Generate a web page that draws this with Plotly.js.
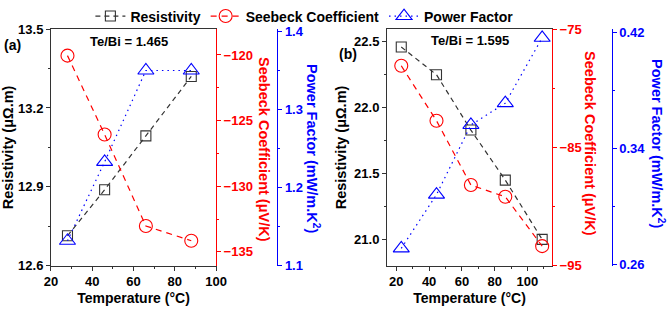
<!DOCTYPE html>
<html>
<head>
<meta charset="utf-8">
<script src="https://cdn.plot.ly/plotly-3.0.1.min.js"></script>
<style>html,body{margin:0;padding:0;background:#fff;}#chart{width:669px;height:309px;}</style>
</head>
<body>
<div id="chart"></div>
<script>
// Panel (a): Te/Bi = 1.465
var tempA = [28, 46, 66, 88];
var resA = [12.714, 12.889, 13.094, 13.32];
var seebA = [-120.05, -126.06, -133.03, -134.15];
var pfA = [1.132, 1.233, 1.35, 1.35];
// Panel (b): Te/Bi = 1.595
var tempB = [23, 44.5, 65.5, 86.5, 109];
var resB = [22.46, 22.25, 21.83, 21.45, 21.0];
var seebB = [-78.1, -82.74, -88.18, -89.17, -93.34];
var pfB = [0.271, 0.308, 0.356, 0.371, 0.416];

var seriesNames = ['Resistivity', 'Seebeck Coefficient', 'Power Factor'];
var panelLabels = ['(a)', '(b)'];
var ratioLabels = ['Te/Bi = 1.465', 'Te/Bi = 1.595'];
var xTitle = 'Temperature (\u00B0C)';
var resTitle = 'Resistivity (\u03BC\u03A9.m)';
var seebTitle = 'Seebeck Coefficient (\u03BCV/K)';
var pfTitle = 'Power Factor (mW/m.K<sup>2</sup>)';

var FONT = 'Arial, "Liberation Sans", sans-serif';
var BLK = '#333333', RED = '#ff0000', BLUE = '#0000ff';
var lw = 1.2;

function tr(x, y, xa, ya, i, show) {
  var styles = [
    {color: BLK, dash: '5px,4px', symbol: 'square-open', size: 10},
    {color: RED, dash: '6px,5px', symbol: 'circle-open', size: 13},
    {color: BLUE, dash: '1.5px,4px', symbol: 'triangle-up-open', size: 14}
  ];
  var s = styles[i];
  return {
    type: 'scatter', mode: 'lines+markers', x: x, y: y, xaxis: xa, yaxis: ya,
    name: seriesNames[i], showlegend: show, legendgroup: 'g' + i,
    line: {color: s.color, width: lw, dash: s.dash},
    marker: {symbol: s.symbol, size: s.size, color: s.color, line: {color: s.color, width: 1.1}},
    cliponaxis: false
  };
}

var data = [
  tr(tempA, resA, 'x', 'y', 0, true),
  tr(tempA, seebA, 'x', 'y2', 1, true),
  tr(tempA, pfA, 'x', 'y3', 2, true),
  tr(tempB, resB, 'x2', 'y4', 0, false),
  tr(tempB, seebB, 'x2', 'y5', 1, false),
  tr(tempB, pfB, 'x2', 'y6', 2, false)
];

var tickF = {family: FONT, size: 13, weight: 'bold'};
function tf(c) { return {family: FONT, size: 13, weight: 'bold', color: c}; }
var yDom = [0.1408, 0.9117];

function xAx(dom, anchor, range) {
  return {
    domain: dom, anchor: anchor, range: range, tick0: 20, dtick: 20,
    ticks: 'outside', ticklen: 4, tickcolor: BLK, tickwidth: 1,
    minor: {dtick: 10, ticks: 'outside', ticklen: 2, tickcolor: BLK},
    showline: true, linecolor: BLK, linewidth: 1, mirror: true,
    showgrid: false, zeroline: false, tickfont: tf('#000'),
    title: {text: xTitle, font: {family: FONT, size: 14, weight: 'bold', color: '#000'}, standoff: 4}
  };
}
function yLeft(anchor, range, t0, dt, mdt, fmt) {
  return {
    domain: yDom, anchor: anchor, range: range, tick0: t0, dtick: dt, tickformat: fmt,
    ticks: 'outside', ticklen: 4, tickcolor: BLK,
    minor: {dtick: mdt, tick0: t0, ticks: 'outside', ticklen: 2, tickcolor: BLK},
    showline: true, linecolor: BLK, linewidth: 1, showgrid: false, zeroline: false,
    tickfont: tf('#000'),
    title: {text: resTitle, font: {family: FONT, size: 14.5, weight: 'bold', color: '#000'}, standoff: 4}
  };
}
function yRight(over, anchor, pos, range, t0, dt, mdt, color, fmt) {
  var a = {
    overlaying: over, side: 'right', range: range, tick0: t0, dtick: dt, tickformat: fmt,
    ticks: 'outside', ticklen: 4, tickcolor: color,
    minor: {dtick: mdt, tick0: t0, ticks: 'outside', ticklen: 2, tickcolor: color},
    showline: true, linecolor: color, linewidth: 1, showgrid: false, zeroline: false,
    tickfont: tf(color)
  };
  if (anchor === 'free') { a.anchor = 'free'; a.position = pos; } else { a.anchor = anchor; }
  return a;
}

function ann(x, y, text, color, size, angle, xanchor) {
  return {xref: 'paper', yref: 'paper', x: x / 669, y: 1 - y / 309, text: text, showarrow: false,
    xanchor: xanchor || 'center', yanchor: 'middle', textangle: angle || 0,
    font: {family: FONT, size: size, weight: 'bold', color: color}};
}

var layout = {
  width: 669, height: 309,
  margin: {l: 0, r: 0, t: 0, b: 0},
  paper_bgcolor: '#fff', plot_bgcolor: 'rgba(0,0,0,0)',
  font: {family: FONT, color: '#000'},
  showlegend: true,
  legend: {orientation: 'h', x: 0.455, xanchor: 'center', y: 1.005, yanchor: 'top',
    font: {family: FONT, size: 14, weight: 'bold', color: '#000'}, bgcolor: 'rgba(0,0,0,0)',
    itemwidth: 30, tracegroupgap: 0},
  xaxis: xAx([0.0762, 0.3229], 'y', [20, 100]),
  yaxis: yLeft('x', [12.6, 13.5], 12.6, 0.3, 0.15, '.1f'),
  yaxis2: yRight('y', 'x', null, [-136.06, -118.03], -135, 5, 2.5, RED, 'd'),
  yaxis3: yRight('y', 'free', 0.4145, [1.1, 1.403], 1.1, 0.1, 0.05, BLUE, '.1f'),
  xaxis2: xAx([0.5785, 0.8251], 'y4', [14.3, 115]),
  yaxis4: yLeft('x2', [20.80, 22.596], 21, 0.5, 0.25, '.1f'),
  yaxis5: yRight('y4', 'x2', null, [-95, -75], -95, 10, 5, RED, 'd'),
  yaxis6: yRight('y4', 'free', 0.9143, [0.259, 0.422], 0.26, 0.08, 0.04, BLUE, '.2f'),
  annotations: [
    ann(2, 43, panelLabels[0], '#000', 14, 0, 'left'),
    ann(337, 52, panelLabels[1], '#000', 14, 0, 'left'),
    ann(129, 40, ratioLabels[0], '#000', 13),
    ann(469.5, 39, ratioLabels[1], '#000', 13),
    ann(264, 148, seebTitle, RED, 14.5, 90),
    ann(313, 147, pfTitle, BLUE, 14.5, 90),
    ann(590, 142, seebTitle, RED, 14.5, 90),
    ann(658, 142, pfTitle, BLUE, 14.5, 90)
  ]
};

Plotly.newPlot('chart', data, layout, {staticPlot: true, displayModeBar: false});
</script>
</body>
</html>
